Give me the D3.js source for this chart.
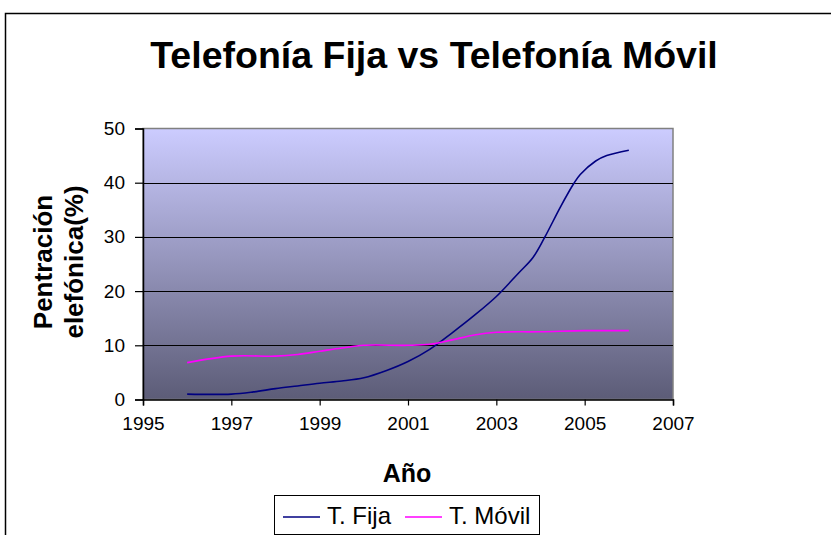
<!DOCTYPE html>
<html>
<head>
<meta charset="utf-8">
<script src="https://cdn.jsdelivr.net/npm/d3@7"></script>
<style>
  body { margin: 0; background: #fff; }
  text { font-family: "Liberation Sans", Arial, sans-serif; }
</style>
</head>
<body>
<div id="chart"></div>
<script>
// data
var fijaYears = [1996, 1997, 1997.5, 1998, 1998.5, 1999, 1999.5, 2000, 2000.5, 2001, 2001.5, 2002, 2002.5, 2003, 2003.5, 2003.83, 2004.1, 2004.45, 2004.75, 2004.9, 2005.25, 2005.5, 2006];
var fijaValues = [1.0, 1.0, 1.4, 2.0, 2.5, 3.0, 3.4, 4.0, 5.3, 7.0, 9.3, 12.3, 15.5, 19.0, 23.3, 26.2, 30.0, 35.5, 39.8, 41.5, 44.0, 45.0, 46.0];
var movilYears = [1996, 1997, 1998, 1998.5, 1999, 1999.5, 2000, 2001, 2001.5, 2002, 2002.5, 2003, 2004, 2005, 2006];
var movilValues = [6.8, 8.0, 8.0, 8.3, 8.9, 9.5, 10.0, 10.0, 10.2, 11.0, 11.9, 12.4, 12.5, 12.7, 12.7];
var xTicks = [1995, 1997, 1999, 2001, 2003, 2005, 2007];
var yTicks = [0, 10, 20, 30, 40, 50];
var seriesNames = ["T. Fija", "T. Móvil"];
var seriesColors = ["#000080", "#ff00ff"];

var W = 831, H = 535;
var svg = d3.select("#chart").append("svg").attr("width", W).attr("height", H);

// outer frame (runs off the right and bottom)
svg.append("rect").attr("x", 5.5).attr("y", 13.5).attr("width", 840).attr("height", 540)
  .attr("fill", "#fff").attr("stroke", "#000").attr("stroke-width", 1.5);

var pLeft = 143, pRight = 673, pTop = 128.5, pBottom = 399.5;
var x = d3.scaleLinear().domain([1995, 2007]).range([pLeft, pRight]);
var y = d3.scaleLinear().domain([0, 50]).range([pBottom, pTop]);

var grad = svg.append("defs").append("linearGradient").attr("id", "bg")
  .attr("x1", 0).attr("y1", 0).attr("x2", 0).attr("y2", 1);
grad.append("stop").attr("offset", "0%").attr("stop-color", "#ccccff");
grad.append("stop").attr("offset", "100%").attr("stop-color", "#5c5c77");

svg.append("rect").attr("x", pLeft).attr("y", pTop).attr("width", pRight - pLeft).attr("height", pBottom - pTop)
  .attr("fill", "url(#bg)").attr("stroke", "#808080").attr("stroke-width", 1.5);

// gridlines
svg.append("g").selectAll("line").data(yTicks.filter(function(d){ return d > 0 && d < 50; }))
  .enter().append("line")
  .attr("x1", pLeft).attr("x2", pRight)
  .attr("y1", function(d){ return Math.round(y(d)) + 0.5; })
  .attr("y2", function(d){ return Math.round(y(d)) + 0.5; })
  .attr("stroke", "#000").attr("stroke-width", 1.2);

// axes
var xAxis = svg.append("g").attr("transform", "translate(0," + pBottom + ")")
  .call(d3.axisBottom(x).tickValues(xTicks).tickFormat(d3.format("d")).tickSizeOuter(0).tickSize(6).tickPadding(11));
var yAxis = svg.append("g").attr("transform", "translate(" + pLeft + ",0)")
  .call(d3.axisLeft(y).tickValues(yTicks).tickSizeOuter(0).tickSize(8).tickPadding(10));
[xAxis, yAxis].forEach(function(a){
  a.selectAll("path").attr("stroke", "#000").attr("stroke-width", 1.5);
  a.selectAll("line").attr("stroke", "#000").attr("stroke-width", 1.2);
  a.selectAll("text").attr("font-size", 19).attr("fill", "#000")
    .attr("font-family", "Liberation Sans, Arial, sans-serif");
});

// lines
var line = d3.line().x(function(d){ return x(d[0]); }).y(function(d){ return y(d[1]); })
  .curve(d3.curveCatmullRom.alpha(0.5));
var fija = fijaYears.map(function(d, i){ return [d, fijaValues[i]]; });
var movil = movilYears.map(function(d, i){ return [d, movilValues[i]]; });
[fija, movil].forEach(function(s, i){
  svg.append("path").datum(s).attr("d", line).attr("fill", "none")
    .attr("stroke", seriesColors[i]).attr("stroke-width", 1.6);
});

// titles
svg.append("text").attr("x", 434).attr("y", 68).attr("text-anchor", "middle")
  .attr("font-size", 37.5).attr("font-weight", "bold").text("Telefonía Fija vs Telefonía Móvil");
svg.append("text").attr("x", 407).attr("y", 482).attr("text-anchor", "middle")
  .attr("font-size", 25).attr("font-weight", "bold").text("Año");
var yt = svg.append("text").attr("transform", "translate(52,262) rotate(-90)")
  .attr("text-anchor", "middle").attr("font-size", 26).attr("font-weight", "bold");
yt.append("tspan").attr("x", 0).attr("dy", 0).text("Pentración");
yt.append("tspan").attr("x", 0).attr("dy", 31).text("elefónica(%)");

// legend
var lg = svg.append("g");
lg.append("rect").attr("x", 274.5).attr("y", 495.5).attr("width", 265).attr("height", 39)
  .attr("fill", "#fff").attr("stroke", "#000").attr("stroke-width", 1);
var lx = [283, 405];
seriesNames.forEach(function(n, i){
  lg.append("line").attr("x1", lx[i]).attr("x2", lx[i] + 37).attr("y1", 517).attr("y2", 517)
    .attr("stroke", seriesColors[i]).attr("stroke-width", 1.6);
  lg.append("text").attr("x", lx[i] + 44).attr("y", 524).attr("font-size", 24).text(n);
});
</script>
</body>
</html>
